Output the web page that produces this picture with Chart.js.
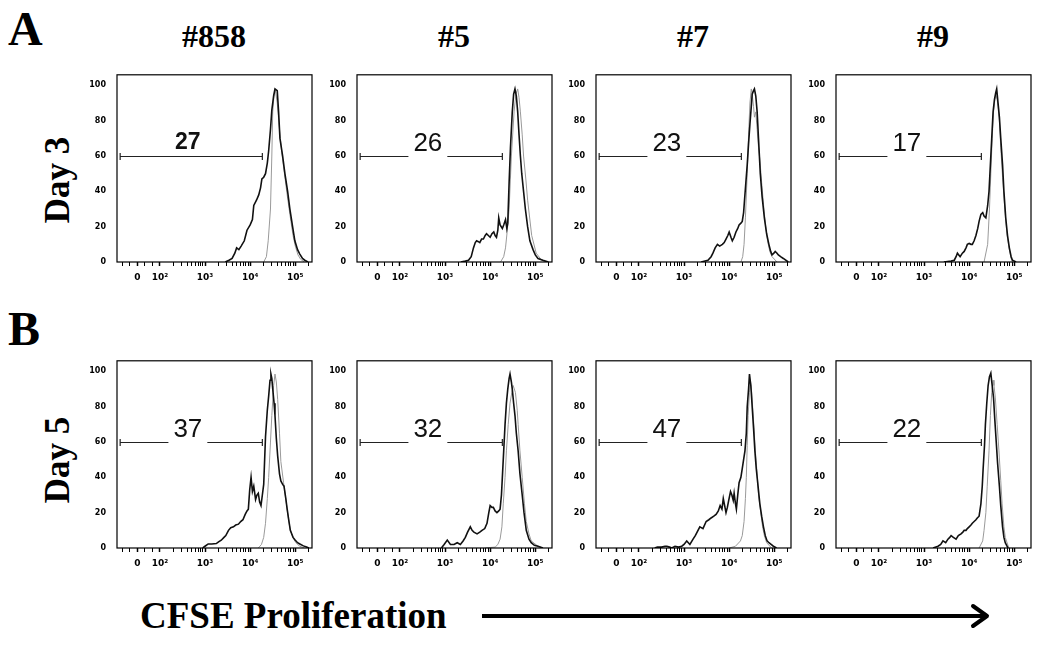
<!DOCTYPE html>
<html>
<head>
<meta charset="utf-8">
<script src="https://cdn.jsdelivr.net/npm/chart.js@4"></script>
<style>
  body { margin: 0; background: #fff; width: 1050px; height: 649px; position: relative; overflow: hidden; }
  .txt { position: absolute; font-family: "Liberation Serif", "Times New Roman", serif; font-weight: bold; color: #000; white-space: nowrap; line-height: 1; }
  .head { width: 200px; text-align: center; font-size: 32px; }
  .day { font-size: 35px; transform: translate(-50%, -50%) rotate(-90deg); }
  canvas { position: absolute; }
</style>
</head>
<body>
<div class="txt" style="left:8px;top:5px;font-size:48px">A</div>
<div class="txt" style="left:8px;top:305px;font-size:48px">B</div>

<div class="txt head" style="left:114px;top:20px">#858</div>
<div class="txt head" style="left:354px;top:20px">#5</div>
<div class="txt head" style="left:593px;top:20px">#7</div>
<div class="txt head" style="left:833px;top:20px">#9</div>

<div class="txt day" style="left:57px;top:180px">Day 3</div>
<div class="txt day" style="left:57px;top:460px">Day 5</div>

<div class="txt" style="left:140px;top:597px;font-size:37px">CFSE Proliferation</div>
<svg style="position:absolute;left:0;top:0" width="1050" height="649">
  <line x1="482" y1="616" x2="985" y2="616" stroke="#000" stroke-width="4"/>
  <polyline points="973,606 987,616 973,626" fill="none" stroke="#000" stroke-width="4" stroke-linecap="round" stroke-linejoin="round"/>
</svg>

<canvas id="c1" width="239" height="231"></canvas>
<canvas id="c2" width="239" height="231"></canvas>
<canvas id="c3" width="239" height="231"></canvas>
<canvas id="c4" width="239" height="231"></canvas>
<canvas id="c5" width="239" height="231"></canvas>
<canvas id="c6" width="239" height="231"></canvas>
<canvas id="c7" width="239" height="231"></canvas>
<canvas id="c8" width="239" height="231"></canvas>

<script>
/*
  CFSE dilution histograms, day 3 and day 5, four samples.
  x = log10 of CFSE intensity (display units, "0" sits at 1.5), y = % of max
*/

// axis ticks
const cfseTickValues = [1.5, 2, 3, 4, 5];
const cfseTickLabels = ["0", "10²", "10³", "10⁴", "10⁵"];
const countTicks = [0, 20, 40, 60, 80, 100];

// gate (bar) drawn on every panel
const gatePercents = ["27", "26", "23", "17", "37", "32", "47", "22"];
const gateFrom = 1.12;
const gateTo = 4.27;
const gateLevel = 60;
const gateTextAt = 2.62;

// Day 3 -- [cfse, count]
const d3_858_sample = [[3.45,0],[3.53,1],[3.6,2],[3.66,5],[3.7,8],[3.75,7],[3.8,9],[3.87,12],[3.93,18],[4.0,21],[4.05,24],[4.08,32],[4.14,35],[4.19,38],[4.23,42],[4.26,47],[4.3,48],[4.34,50],[4.38,56],[4.41,63],[4.45,75],[4.48,86],[4.52,94],[4.55,98],[4.6,97],[4.63,85],[4.66,70],[4.72,60],[4.77,50],[4.83,40],[4.88,30],[4.94,20],[4.99,12],[5.05,7],[5.1,4.5],[5.16,2],[5.21,1],[5.28,0]];
const d3_858_ctrl = [[4.3,0],[4.36,3],[4.4,12],[4.45,30],[4.48,60],[4.5,85],[4.53,95],[4.56,97],[4.6,90],[4.65,75],[4.7,62],[4.76,50],[4.82,38],[4.88,27],[4.95,15],[5.0,9],[5.06,4],[5.12,1.5],[5.2,0]];

const d3_5_sample = [[3.35,0],[3.45,0.5],[3.52,1],[3.58,3],[3.63,8],[3.67,11],[3.7,12],[3.74,11.5],[3.77,11],[3.81,13],[3.85,13],[3.89,15],[3.92,16],[3.96,15],[4.0,14],[4.04,16],[4.08,17],[4.11,15],[4.14,14],[4.17,18],[4.19,25],[4.22,21],[4.27,19],[4.3,21],[4.34,24],[4.37,19],[4.39,22],[4.42,45],[4.45,65],[4.49,85],[4.52,95],[4.55,98],[4.58,94],[4.61,85],[4.64,72],[4.67,60],[4.7,50],[4.74,40],[4.78,30],[4.83,20],[4.88,12],[4.95,7],[5.0,4],[5.06,2],[5.17,1],[5.29,0]];
const d3_5_ctrl = [[4.23,0],[4.3,3],[4.34,8],[4.38,18],[4.42,30],[4.47,60],[4.53,85],[4.57,95],[4.61,98],[4.64,93],[4.67,85],[4.71,72],[4.74,60],[4.79,47],[4.83,35],[4.92,15],[5.02,5],[5.14,1],[5.25,0]];

const d3_7_sample = [[3.38,0],[3.53,1],[3.6,3],[3.64,5],[3.69,8],[3.74,10],[3.79,9],[3.85,10],[3.89,11],[3.93,13],[3.97,15],[4.0,17],[4.04,14],[4.07,12],[4.11,14],[4.15,17],[4.19,19],[4.22,21],[4.26,22],[4.29,23],[4.32,28],[4.34,35],[4.37,45],[4.4,55],[4.43,67],[4.46,78],[4.49,88],[4.51,95],[4.54,97],[4.56,98],[4.59,94],[4.62,85],[4.65,70],[4.69,50],[4.73,37],[4.78,25],[4.83,16],[4.88,10],[4.92,6],[4.95,4],[4.99,5],[5.02,6],[5.06,5],[5.09,4],[5.14,3],[5.2,2],[5.31,0]];
const d3_7_ctrl = [[4.26,0],[4.3,3],[4.33,10],[4.36,25],[4.4,50],[4.43,72],[4.46,90],[4.49,98],[4.51,95],[4.54,88],[4.56,82],[4.59,85],[4.62,75],[4.65,65],[4.68,58],[4.72,45],[4.77,30],[4.81,20],[4.85,12],[4.9,6],[4.95,3],[5.06,0]];

const d3_9_sample = [[3.44,0],[3.6,0.5],[3.67,1],[3.71,3],[3.74,5],[3.77,4],[3.8,3],[3.85,5],[3.89,6],[3.93,8],[3.96,10],[4.0,10.5],[4.04,10],[4.07,10],[4.11,12],[4.15,15],[4.19,19],[4.22,23],[4.26,27],[4.3,28],[4.33,26],[4.37,25],[4.41,32],[4.44,40],[4.47,55],[4.5,70],[4.53,85],[4.56,92],[4.59,96],[4.61,98],[4.64,90],[4.67,82],[4.7,70],[4.74,55],[4.77,40],[4.81,25],[4.85,15],[4.89,8],[4.93,3],[4.96,1],[5.04,0]];
const d3_9_ctrl = [[4.33,0],[4.41,10],[4.45,30],[4.48,50],[4.51,70],[4.54,85],[4.57,92],[4.59,95],[4.62,92],[4.64,88],[4.67,80],[4.7,65],[4.74,48],[4.79,30],[4.84,15],[4.89,7],[4.93,2],[4.96,0]];

// Day 5 -- [cfse, count]
const d5_858_sample = [[2.95,0],[3.0,1],[3.07,2.3],[3.15,2.3],[3.25,2.5],[3.3,3.5],[3.36,4.4],[3.42,6],[3.46,7],[3.52,10],[3.57,11.5],[3.63,12],[3.68,13],[3.74,13.5],[3.79,15],[3.84,16],[3.89,19],[3.93,21],[3.96,22],[3.99,33],[4.02,40],[4.05,32],[4.08,35],[4.12,27.5],[4.15,30],[4.18,31],[4.21,26],[4.24,24],[4.27,30],[4.3,36],[4.34,63],[4.38,78],[4.41,86],[4.44,95],[4.46,98.5],[4.48,96],[4.5,90],[4.53,82],[4.55,75],[4.58,62],[4.61,52],[4.65,42],[4.68,38],[4.72,36],[4.75,35],[4.79,28],[4.82,22],[4.86,15],[4.89,10],[4.95,6],[5.0,4.4],[5.05,3],[5.1,2.3],[5.18,1.2],[5.25,0.5],[5.3,0]];
const d5_858_ctrl = [[4.18,0],[4.25,2],[4.3,6],[4.34,14],[4.38,28],[4.41,40],[4.45,60],[4.48,75],[4.52,92],[4.55,98.5],[4.58,94],[4.61,84],[4.65,65],[4.68,49],[4.74,37],[4.79,27.5],[4.84,18],[4.89,10],[4.95,6],[5.0,3.5],[5.05,2],[5.1,1],[5.2,0]];

const d5_5_sample = [[2.92,0],[2.98,2],[3.05,4.5],[3.12,2],[3.2,2],[3.27,3],[3.34,2],[3.4,4],[3.45,6],[3.5,9],[3.56,12],[3.6,10],[3.64,9],[3.71,8],[3.77,9],[3.82,10],[3.88,11],[3.93,14],[3.97,20],[4.0,24],[4.04,23],[4.07,23],[4.11,21],[4.15,20],[4.19,21],[4.22,22],[4.25,30],[4.27,40],[4.3,55],[4.33,70],[4.36,82],[4.39,90],[4.42,96],[4.44,98.5],[4.47,94],[4.49,90],[4.52,82],[4.55,75],[4.58,65],[4.62,55],[4.66,42],[4.71,30],[4.75,20],[4.8,10],[4.86,5],[4.91,3],[4.98,1.5],[5.06,1],[5.17,0]];
const d5_5_ctrl = [[3.89,0],[4.0,0.3],[4.11,0.5],[4.17,2],[4.22,5],[4.26,12],[4.29,25],[4.33,40],[4.36,55],[4.4,70],[4.44,82],[4.48,88],[4.51,92],[4.56,88],[4.6,78],[4.62,70],[4.66,55],[4.71,40],[4.76,25],[4.8,15],[4.86,8],[4.91,4],[5.06,1],[5.17,0]];

const d5_7_sample = [[2.35,0],[2.41,0.5],[2.5,0.5],[2.58,1],[2.62,1],[2.68,0.5],[2.73,0],[2.8,1],[2.88,0.5],[2.95,1],[3.0,2],[3.06,4],[3.13,2],[3.2,5],[3.25,7],[3.29,9],[3.35,12],[3.42,11],[3.49,15],[3.55,16],[3.6,17],[3.66,18],[3.71,19],[3.76,21],[3.8,24],[3.84,22],[3.87,28],[3.9,24],[3.93,20],[3.96,23],[3.99,27],[4.03,32],[4.06,30],[4.09,27],[4.11,31],[4.14,25],[4.16,22],[4.19,30],[4.22,37],[4.26,40],[4.29,45],[4.32,50],[4.35,55],[4.38,65],[4.4,80],[4.43,90],[4.45,98.5],[4.48,92],[4.51,80],[4.54,68],[4.57,55],[4.6,45],[4.64,35],[4.68,25],[4.72,18],[4.76,12],[4.8,7],[4.84,4],[4.88,3],[4.93,2],[4.98,1],[5.05,0]];
const d5_7_ctrl = [[4.0,0],[4.14,1],[4.25,4],[4.29,7],[4.33,15],[4.36,28],[4.38,40],[4.4,58],[4.42,75],[4.45,88],[4.47,95],[4.5,88],[4.52,80],[4.55,68],[4.58,55],[4.62,42],[4.65,30],[4.7,20],[4.74,12],[4.78,7],[4.83,3],[4.94,0]];

const d5_9_sample = [[3.2,0],[3.31,1],[3.37,2],[3.42,4],[3.48,3],[3.53,5],[3.57,6],[3.6,7],[3.65,6],[3.71,5],[3.76,7],[3.82,8],[3.86,9],[3.89,10],[3.93,10],[3.96,11],[4.0,12],[4.04,13],[4.07,14],[4.11,15],[4.15,16],[4.18,17],[4.22,18],[4.26,25],[4.29,35],[4.31,45],[4.34,58],[4.36,70],[4.39,82],[4.42,92],[4.45,97],[4.48,99],[4.51,92],[4.54,85],[4.57,72],[4.6,60],[4.63,48],[4.67,35],[4.7,24],[4.74,12],[4.77,6],[4.8,3],[4.86,0]];
const d5_9_ctrl = [[4.22,0],[4.3,4],[4.33,10],[4.37,20],[4.4,35],[4.44,55],[4.47,75],[4.5,88],[4.53,95],[4.55,92],[4.58,85],[4.62,70],[4.66,55],[4.7,38],[4.73,25],[4.77,12],[4.8,6],[4.88,0]];

const sampleSeries = [d3_858_sample, d3_5_sample, d3_7_sample, d3_9_sample, d5_858_sample, d5_5_sample, d5_7_sample, d5_9_sample];
const controlSeries = [d3_858_ctrl, d3_5_ctrl, d3_7_ctrl, d3_9_ctrl, d5_858_ctrl, d5_5_ctrl, d5_7_ctrl, d5_9_ctrl];

// where each plot box sits on the page
const colLeft = [117, 357, 596, 836];
const rowTop = [65, 351];

// minor tick marks: log spacing inside each decade + a few in the linear part
const minorTicks = [1.17, 1.33, 1.67, 1.83];
[2, 3, 4].forEach((d) => {
  for (let k = 2; k < 10; k++) minorTicks.push(d + Math.log10(k));
});
minorTicks.push(5 + Math.log10(2));
const allCfseTicks = cfseTickValues.concat(minorTicks).sort((a, b) => a - b);

// frame around the plot area + the gate bar with its percentage
const panelExtras = {
  id: "panelExtras",
  afterDatasetsDraw(chart, args, opts) {
    const { ctx, chartArea, scales } = chart;
    const x = scales.x;
    const y = scales.y;
    ctx.save();
    ctx.strokeStyle = "#000";
    ctx.lineWidth = 1.2;
    ctx.strokeRect(chartArea.left, chartArea.top, chartArea.right - chartArea.left, chartArea.bottom - chartArea.top);

    const x0 = x.getPixelForValue(gateFrom);
    const x1 = x.getPixelForValue(gateTo);
    const xm = x.getPixelForValue(gateTextAt);
    const yy = Math.round(y.getPixelForValue(gateLevel)) + 0.5;
    ctx.font = opts.bold ? 'bold 23px "Liberation Sans", Arial' : '26px "Liberation Sans", Arial';
    const w = ctx.measureText(opts.label).width;
    ctx.lineWidth = 1.2;
    ctx.strokeStyle = "#222";
    ctx.beginPath();
    if (opts.bold) {
      ctx.moveTo(x0, yy); ctx.lineTo(x1, yy);
    } else {
      ctx.moveTo(x0, yy); ctx.lineTo(xm - w / 2 - 5, yy);
      ctx.moveTo(xm + w / 2 + 5, yy); ctx.lineTo(x1, yy);
    }
    ctx.moveTo(x0, yy - 3.5); ctx.lineTo(x0, yy + 3.5);
    ctx.moveTo(x1, yy - 3.5); ctx.lineTo(x1, yy + 3.5);
    ctx.stroke();

    ctx.fillStyle = "#111";
    ctx.textAlign = "center";
    ctx.textBaseline = "alphabetic";
    ctx.fillText(opts.label, xm, yy - (opts.bold ? 8 : 6));
    ctx.restore();
  }
};

function makePanel(i) {
  const canvas = document.getElementById("c" + (i + 1));
  const col = i % 4;
  const row = Math.floor(i / 4);
  canvas.style.left = (colLeft[col] - 40) + "px";
  canvas.style.top = (rowTop[row] - 6) + "px";

  const toXY = (pts) => pts.map((p) => ({ x: p[0], y: p[1] }));

  new Chart(canvas, {
    type: "scatter",
    data: {
      datasets: [
        {
          label: "sample",
          data: toXY(sampleSeries[i]),
          showLine: true,
          borderColor: "#111",
          borderWidth: 1.6,
          pointRadius: 0,
          tension: 0,
        },
        {
          label: "control",
          data: toXY(controlSeries[i]),
          showLine: true,
          borderColor: "#9a9a9a",
          borderWidth: 1,
          pointRadius: 0,
          tension: 0,
        },
      ],
    },
    options: {
      responsive: false,
      animation: false,
      layout: { padding: { top: 6, right: 4, left: 0, bottom: 0 } },
      scales: {
        x: {
          type: "linear",
          min: 1.05,
          max: 5.37,
          afterBuildTicks: (scale) => {
            scale.ticks = allCfseTicks.map((v) => ({ value: v }));
          },
          afterFit: (scale) => { scale.height = 28; },
          ticks: {
            autoSkip: false,
            maxRotation: 0,
            padding: 6,
            color: "#000",
            font: { family: "DejaVu Sans", size: 9, weight: "bold" },
            callback: (v) => {
              const k = cfseTickValues.indexOf(v);
              return k >= 0 ? cfseTickLabels[k] : "";
            },
          },
          grid: {
            display: true,
            drawOnChartArea: false,
            drawTicks: true,
            tickLength: 4,
            tickColor: "#000",
            tickWidth: (c) => (cfseTickValues.includes(c.tick.value) ? 1.5 : 1),
          },
          border: { display: false },
        },
        y: {
          min: 0,
          max: 106,
          afterBuildTicks: (scale) => {
            scale.ticks = countTicks.map((v) => ({ value: v }));
          },
          afterFit: (scale) => { scale.width = 40; },
          ticks: {
            padding: 11,
            color: "#000",
            font: { family: "DejaVu Sans", size: 8, weight: "bold" },
          },
          grid: { display: false, drawTicks: false },
          border: { display: false },
        },
      },
      plugins: {
        legend: { display: false },
        tooltip: { enabled: false },
        panelExtras: { label: gatePercents[i], bold: i === 0 },
      },
    },
    plugins: [panelExtras],
  });
}

for (let i = 0; i < 8; i++) makePanel(i);
</script>
</body>
</html>
